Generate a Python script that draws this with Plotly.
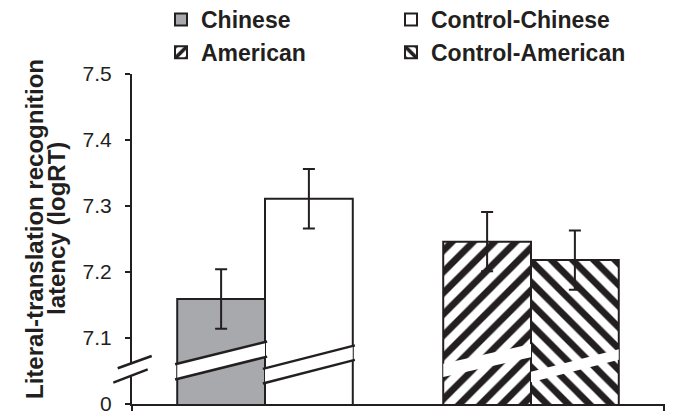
import plotly.graph_objects as go

# ---- data ----
groups = ["Chinese", "American"]
series_names = ["Chinese", "Control-Chinese", "American", "Control-American"]
series_group = ["Chinese", "Chinese", "American", "American"]
series_values = [7.159, 7.311, 7.246, 7.218]
series_errors = [0.045, 0.045, 0.045, 0.045]
tick_values = [7.0, 7.1, 7.2, 7.3, 7.4, 7.5]
tick_labels = ["0", "7.1", "7.2", "7.3", "7.4", "7.5"]
y_title_lines = ["Literal-translation recognition", "latency (logRT)"]

# ---- style ----
DARK = "#231f20"
GRAY = "#a7a9ac"
FONT = "Liberation Sans, Arial, sans-serif"
W, H = 674, 411
ML, MR, MT, MB = 132, 10, 74, 7
PW, PH = W - ML - MR, H - MT - MB

def px2paper(px, py):
    return (px - ML) / PW, (H - MB - py) / PH

BW = 0.33
offsets = [-BW, 0.0, -BW, 0.0]
fills = [GRAY, "white", "white", "white"]
patterns = ["", "", "/", "\\"]
legends = ["legend", "legend2", "legend", "legend2"]

fig = go.Figure()
for name, g, v, e, off, fc, pat, lg in zip(series_names, series_group, series_values,
                                           series_errors, offsets, fills, patterns, legends):
    marker = dict(color=fc, line=dict(color=DARK, width=2))
    if pat:
        marker["pattern"] = dict(shape=pat, fgcolor=DARK, bgcolor="white", fgopacity=1,
                                 size=15, solidity=0.45, fillmode="replace")
    fig.add_trace(go.Bar(
        x=[g], y=[v], name=name, width=[BW], offset=[off],
        marker=marker, legend=lg,
        error_y=dict(type="data", array=[e], color=DARK, thickness=2, width=6),
    ))

shapes = []
# break bands across bars: (group index, offset, lower-left y, rise, thickness, bordered)
bands = [
    (0, -BW, 7.038, 0.033, 0.023, True),
    (0, 0.0, 7.032, 0.034, 0.022, True),
    (1, -BW, 7.041, 0.030, 0.020, False),
    (1, 0.0, 7.033, 0.034, 0.016, False),
]
for gi, off, y0, rise, th, border in bands:
    xa, xb = gi + off, gi + off + BW
    ext = 0.008 if border else 0.0
    xa2, xb2 = xa - ext, xb + ext
    k = rise / BW
    ya_lo, yb_lo = y0 - k * ext, y0 + rise + k * ext
    path = (f"M{xa},{y0} L{xb},{y0+rise} L{xb},{y0+rise+th} L{xa},{y0+th} Z")
    shapes.append(dict(type="path", path=path, xref="x", yref="y",
                       fillcolor="white", line=dict(width=0), layer="above"))
    if border:
        for dy in (0.0, th):
            shapes.append(dict(type="line", xref="x", yref="y",
                               x0=xa2, y0=ya_lo + dy, x1=xb2, y1=yb_lo + dy,
                               line=dict(color=DARK, width=2.5), layer="above"))

# y-axis break marks
p1a, p1b = px2paper(117.7, 368.3), px2paper(151.7, 356.0)
p2a, p2b = px2paper(113.3, 382.7), px2paper(147.7, 369.3)
shapes.append(dict(type="path", xref="paper", yref="paper",
                   path=f"M{p1a[0]},{p1a[1]} L{p1b[0]},{p1b[1]} L{p2b[0]},{p2b[1]} L{p2a[0]},{p2a[1]} Z",
                   fillcolor="white", line=dict(width=0), layer="above"))
for a, b in ((p1a, p1b), (p2a, p2b)):
    shapes.append(dict(type="line", xref="paper", yref="paper",
                       x0=a[0], y0=a[1], x1=b[0], y1=b[1],
                       line=dict(color=DARK, width=2.5), layer="above"))
# x-axis end ticks
for xp in (0.0, 1.0):
    shapes.append(dict(type="line", xref="paper", yref="paper",
                       x0=xp, x1=xp, y0=0, y1=-7 / PH,
                       line=dict(color=DARK, width=2), layer="above"))

annotations = []
for txt, cx in zip(y_title_lines, (34, 56)):
    ax, ay = px2paper(cx, 229)
    annotations.append(dict(text=txt, x=ax, y=ay, xref="paper", yref="paper",
                            showarrow=False, textangle=-90, xanchor="center", yanchor="middle",
                            font=dict(family=FONT, size=24, color=DARK, weight="bold")))

lx1, ly = px2paper(161, -2)
lx2, _ = px2paper(391, -2)
legend_style = dict(font=dict(family=FONT, size=23, color=DARK, weight="bold"),
                    bgcolor="rgba(0,0,0,0)", orientation="v",
                    xanchor="left", yanchor="top", y=ly, itemclick=False)

fig.update_layout(
    width=W, height=H,
    margin=dict(l=ML, r=MR, t=MT, b=MB, pad=0, autoexpand=False),
    paper_bgcolor="white", plot_bgcolor="white",
    barmode="overlay",
    showlegend=True,
    legend=dict(x=lx1, **legend_style),
    legend2=dict(x=lx2, **legend_style),
    xaxis=dict(type="category", categoryorder="array", categoryarray=groups,
               range=[-0.5, 1.5], showline=True, linecolor=DARK, linewidth=2,
               ticks="", showticklabels=False, showgrid=False, zeroline=False,
               fixedrange=True),
    yaxis=dict(range=[7.0, 7.5], tickvals=tick_values, ticktext=tick_labels,
               ticks="outside", ticklen=5, tickwidth=1.5, tickcolor=DARK,
               showline=True, linecolor=DARK, linewidth=2, showgrid=False,
               zeroline=False, ticklabelstandoff=9, ticklabeloverflow="allow",
               tickfont=dict(family=FONT, size=21, color=DARK), fixedrange=True),
    shapes=shapes,
    annotations=annotations,
)

fig.write_html("out.html", config={"displayModeBar": False},
               post_script="document.body.style.margin='0';document.body.style.overflow='hidden';")
